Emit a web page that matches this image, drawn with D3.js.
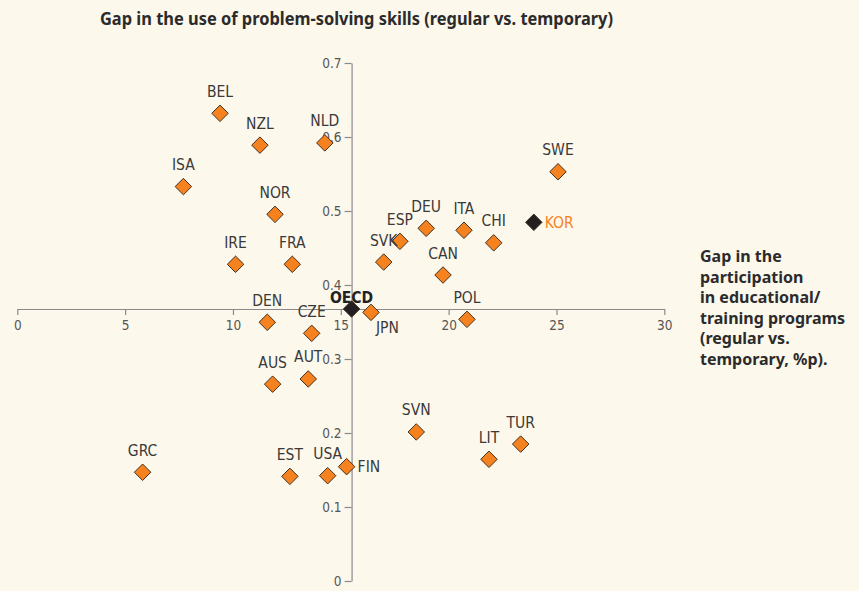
<!DOCTYPE html>
<html>
<head>
<meta charset="utf-8">
<script src="https://cdn.jsdelivr.net/npm/d3@7"></script>
<style>
  body { margin: 0; background: #fdf8ec; }
  svg { display: block; }
</style>
</head>
<body>
<svg id="pic" width="859" height="591"></svg>
<script>
// country codes and values (x = training gap %p, y = problem-solving gap)
var countries = ["BEL","NZL","NLD","ISA","NOR","IRE","FRA","SVK","ESP","DEU","ITA","CHI","KOR","SWE","CAN","POL","JPN","OECD","DEN","CZE","AUS","AUT","GRC","EST","USA","FIN","SVN","LIT","TUR"];
var training = [9.4,11.25,14.26,7.7,11.95,10.12,12.75,16.99,17.74,18.96,20.71,22.09,23.95,25.07,19.74,20.85,16.4,15.5,11.59,13.65,11.84,13.49,5.81,12.64,14.39,15.27,18.5,21.87,23.34];
var skills = [0.632,0.589,0.592,0.533,0.4955,0.428,0.428,0.431,0.459,0.4766,0.474,0.457,0.4847,0.553,0.4135,0.3536,0.363,0.3676,0.3496,0.3347,0.266,0.273,0.147,0.1414,0.1423,0.1545,0.2014,0.1645,0.185];
var xTicks = [0,5,10,15,20,25,30];
var yTicks = [0,0.1,0.2,0.3,0.4,0.5,0.6,0.7];
var xTitle = ["Gap in the","participation","in educational/","training programs","(regular vs.","temporary, %p)."];
var yTitle = "Gap in the use of problem-solving skills (regular vs. temporary)";

var svg = d3.select("#pic");
var labelFont = "'DejaVu Sans Condensed', 'Liberation Sans Narrow', sans-serif";

var x = d3.scaleLinear().domain([0, 30]).range([17.3, 664.3]);
var y = d3.scaleLinear().domain([0, 0.7]).range([581, 63]);

// axes cross at the OECD average
var oecd = countries.indexOf("OECD");
var crossX = x(training[oecd]), crossY = y(skills[oecd]);

var xAxis = svg.append("g")
  .attr("transform", "translate(0," + crossY + ")")
  .call(d3.axisBottom(x).tickValues(xTicks).tickSize(6).tickSizeOuter(0).tickPadding(5));
var yAxis = svg.append("g")
  .attr("transform", "translate(" + crossX + ",0)")
  .call(d3.axisLeft(y).tickValues(yTicks).tickFormat(function(d){ return d === 0 ? "0" : d3.format(".1f")(d); }).tickSize(7).tickSizeOuter(0).tickPadding(3));

[xAxis, yAxis].forEach(function(a){
  a.select(".domain").attr("stroke", "#8a8a8a").attr("stroke-width", 1.2);
  a.selectAll(".tick line").attr("stroke", "#8a8a8a").attr("stroke-width", 1.2);
  a.selectAll(".tick text").attr("fill", "#555").attr("font-size", 13.5).attr("font-family", labelFont);
});

// diamonds
svg.append("g").selectAll("path")
  .data(countries)
  .join("path")
  .attr("d", d3.symbol().type(d3.symbolSquare).size(136))
  .attr("transform", function(d, i){ return "translate(" + x(training[i]) + "," + y(skills[i]) + ") rotate(45)"; })
  .attr("fill", function(d){ return (d === "KOR" || d === "OECD") ? "#231f20" : "#f5821f"; })
  .attr("stroke", "#3b2a1c")
  .attr("stroke-width", 0.9);

// labels
var rightSide = {KOR: true, FIN: true};
svg.append("g").selectAll("text")
  .data(countries)
  .join("text")
  .attr("x", function(d, i){
    if (rightSide[d]) return x(training[i]) + 11;
    if (d === "JPN") return x(training[i]) + 5;
    return x(training[i]);
  })
  .attr("y", function(d, i){
    if (rightSide[d]) return y(skills[i]) + 5.5;
    if (d === "JPN") return y(skills[i]) + 21;
    if (d === "OECD") return y(skills[i]) - 6;
    return y(skills[i]) - 16.5;
  })
  .attr("text-anchor", function(d){ return (rightSide[d] || d === "JPN") ? "start" : "middle"; })
  .attr("font-family", labelFont)
  .attr("font-size", 15.5)
  .attr("font-weight", function(d){ return d === "OECD" ? "bold" : "normal"; })
  .attr("fill", function(d){ return d === "KOR" ? "#f5821f" : (d === "OECD" ? "#222" : "#3a3a3a"); })
  .text(function(d){ return d; });

// titles
svg.append("text")
  .attr("x", 100).attr("y", 25)
  .attr("font-family", "'Noto Sans', sans-serif")
  .attr("font-weight", "bold")
  .attr("font-size", 17)
  .attr("fill", "#2b2b2b")
  .attr("textLength", 513)
  .attr("lengthAdjust", "spacingAndGlyphs")
  .text(yTitle);

svg.append("g").selectAll("text")
  .data(xTitle)
  .join("text")
  .attr("x", 700)
  .attr("y", function(d, i){ return 262 + i * 20.5; })
  .attr("font-family", "'Noto Sans', sans-serif")
  .attr("font-weight", "bold")
  .attr("font-size", 16)
  .attr("fill", "#2b2b2b")
  .text(function(d){ return d; });
</script>
</body>
</html>
